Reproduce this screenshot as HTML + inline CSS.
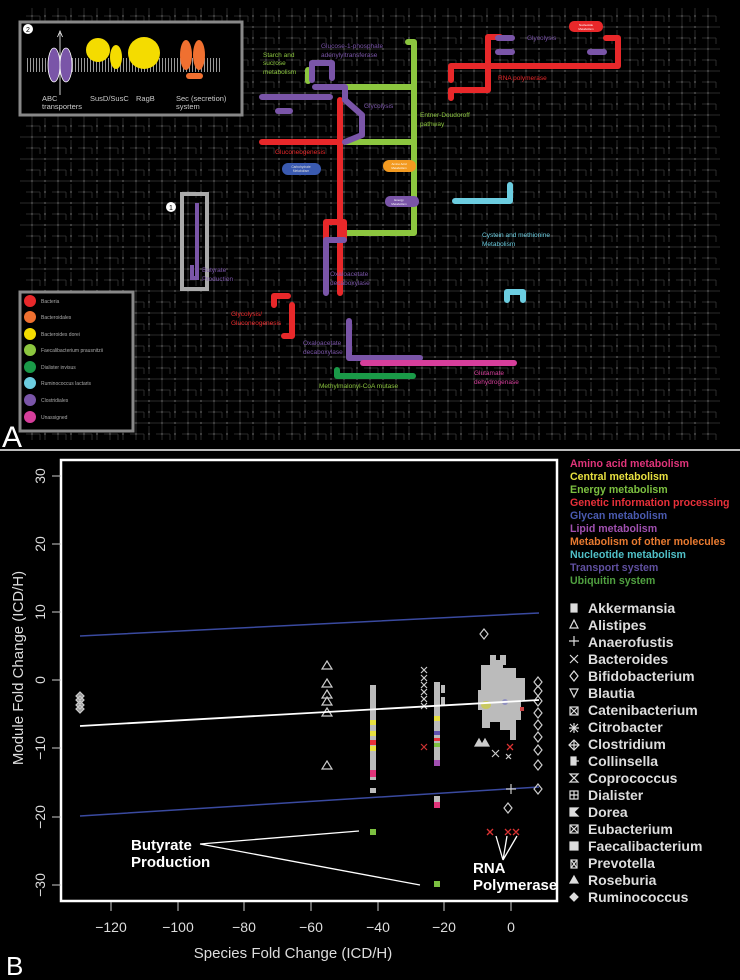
<!DOCTYPE html>
<html><head><meta charset="utf-8"><style>
html,body{margin:0;padding:0;background:#000;}
svg{display:block;font-family:"Liberation Sans",sans-serif;}
</style></head><body>
<svg width="740" height="980" viewBox="0 0 740 980" xmlns="http://www.w3.org/2000/svg">
<defs>
<pattern id="net" x="0" y="0" width="26" height="22" patternUnits="userSpaceOnUse">
<path d="M0 5H26M6 0V22M0 16H14M19 8V22M14 16V22" stroke="#383838" stroke-width="0.8" fill="none"/>
<circle cx="6" cy="5" r="1.1" fill="#444"/><circle cx="19" cy="5" r="1.1" fill="#444"/>
<circle cx="6" cy="16" r="1.1" fill="#444"/><circle cx="19" cy="16" r="1.1" fill="#444"/>
</pattern>
<pattern id="mem" width="3" height="14" patternUnits="userSpaceOnUse"><rect width="1" height="14" fill="#999"/></pattern>
</defs>
<rect width="740" height="980" fill="#000"/>
<!-- Panel A -->
<rect x="20" y="8" width="700" height="432" fill="url(#net)"/>
<rect x="0" y="449" width="740" height="2" fill="#bbb"/>
<g fill="none" stroke-linecap="round" stroke-linejoin="round" stroke-width="6">
<path d="M408 42H414V233H345" stroke="#8cc63f"/>
<path d="M330 87H414M345 142H414" stroke="#8cc63f"/>
<path d="M308 70V81" stroke="#8cc63f"/>
<path d="M262 142H340V100M340 142V293" stroke="#e8282a"/>
<path d="M326 240V222H344V240" stroke="#e8282a"/>
<path d="M262 97H330M312 80V63H332V78M315 87H345V100L362 115V135L345 142" stroke="#7a55a8"/>
<path d="M278 111H290" stroke="#7a55a8"/>
<path d="M326 240V293M326 240H344" stroke="#7a55a8"/>
<path d="M349 321V358H420" stroke="#7a55a8"/>
<path d="M451 80V66H618V38H606M488 37H500M488 37V90H451V98" stroke="#e8282a"/>
<path d="M498 38H512M498 52H512M590 52H604" stroke="#7a55a8"/>
<path d="M455 201H510V185" stroke="#6ccde0"/>
<path d="M507 300V292H523V300" stroke="#6ccde0"/>
<path d="M274 305V296H288M292 305V336H284" stroke="#e8282a"/>
<path d="M363 363H514" stroke="#d63e9b"/>
<path d="M337 370V376H413" stroke="#1a9a48"/>
</g>
<rect x="182" y="194" width="25" height="95" fill="none" stroke="#aaa" stroke-width="4"/>
<path d="M197 203V278H192V265" fill="none" stroke="#7a55a8" stroke-width="4"/>
<circle cx="171" cy="207" r="5" fill="#fff"/><text x="171" y="210" font-size="7" text-anchor="middle" fill="#000">1</text>
<rect x="569" y="21" width="34" height="11" rx="5" fill="#e8282a"/><text x="586" y="26" font-size="3" fill="#fff" text-anchor="middle">Nucleotide</text><text x="586" y="30" font-size="3" fill="#fff" text-anchor="middle">Metabolism</text>
<rect x="282" y="163" width="39" height="12" rx="6" fill="#3a5ab0"/><text x="301" y="168" font-size="3.2" fill="#ddd" text-anchor="middle">Carbohydrate</text><text x="301" y="172" font-size="3.2" fill="#ddd" text-anchor="middle">Metabolism</text>
<rect x="383" y="160" width="33" height="12" rx="6" fill="#f39a20"/><text x="399" y="165" font-size="3" fill="#fff" text-anchor="middle">Amino Acid</text><text x="399" y="169" font-size="3" fill="#fff" text-anchor="middle">Metabolism</text>
<rect x="385" y="196" width="34" height="11" rx="5" fill="#7a55a8"/><text x="399" y="201" font-size="3" fill="#fff" text-anchor="middle">Energy</text><text x="399" y="205" font-size="3" fill="#fff" text-anchor="middle">Metabolism</text>
<g font-size="6.5">
<text x="263" y="57" fill="#8cc63f">Starch and</text><text x="263" y="65" fill="#8cc63f">sucrose</text><text x="263" y="74" fill="#8cc63f">metabolism</text>
<text x="321" y="48" fill="#7a55a8">Glucose-1-phosphate</text><text x="321" y="57" fill="#7a55a8">adenylyltransferase</text>
<text x="364" y="108" fill="#7a55a8">Glycolysis</text>
<text x="420" y="117" fill="#8cc63f">Entner-Doudoroff</text><text x="420" y="126" fill="#8cc63f">pathway</text>
<text x="275" y="154" fill="#e8282a">Gluconeogenesis</text>
<text x="527" y="40" fill="#7a55a8">Glycolysis</text>
<text x="498" y="80" fill="#e8282a">RNA polymerase</text>
<text x="482" y="237" fill="#6ccde0">Cystein and methionine</text><text x="482" y="246" fill="#6ccde0">Metabolism</text>
<text x="202" y="272" fill="#7a55a8">Butyrate</text><text x="202" y="281" fill="#7a55a8">Production</text>
<text x="330" y="276" fill="#7a55a8">Oxaloacetate</text><text x="330" y="285" fill="#7a55a8">decaboxylase</text>
<text x="231" y="316" fill="#e8282a">Glycolysis/</text><text x="231" y="325" fill="#e8282a">Gluconeogenesis</text>
<text x="303" y="345" fill="#7a55a8">Oxaloacetate</text><text x="303" y="354" fill="#7a55a8">decaboxylase</text>
<text x="319" y="388" fill="#8cc63f">Methylmalonyl-CoA mutase</text>
<text x="474" y="375" fill="#d63e9b">Glutamate</text><text x="474" y="384" fill="#d63e9b">dehydrogenase</text>
</g>
<rect x="20" y="22" width="222" height="93" fill="#000" stroke="#888" stroke-width="3"/>
<rect x="27" y="58" width="195" height="14" fill="url(#mem)"/>
<path d="M60 95V33" stroke="#fff" stroke-width="0.8"/><path d="M57.5 37L60 31L62.5 37" fill="none" stroke="#fff" stroke-width="0.8"/>
<ellipse cx="54" cy="65" rx="6" ry="17" fill="#7a55a8" stroke="#fff" stroke-width="0.8"/>
<ellipse cx="66" cy="65" rx="6" ry="17" fill="#7a55a8" stroke="#fff" stroke-width="0.8"/>
<circle cx="98" cy="50" r="12" fill="#f4dc00"/><ellipse cx="116" cy="57" rx="6" ry="12" fill="#f4dc00"/>
<circle cx="144" cy="53" r="16" fill="#f4dc00"/>
<ellipse cx="186" cy="55" rx="6" ry="15" fill="#f07030"/><ellipse cx="199" cy="55" rx="6" ry="15" fill="#f07030"/>
<rect x="186" y="73" width="17" height="6" rx="3" fill="#f07030"/>
<circle cx="28" cy="29" r="5" fill="#fff"/><text x="28" y="32" font-size="7" text-anchor="middle" fill="#000">2</text>
<g font-size="7.5" fill="#ccc">
<text x="42" y="101">ABC</text><text x="42" y="109">transporters</text>
<text x="90" y="101">SusD/SusC</text><text x="136" y="101">RagB</text>
<text x="176" y="101">Sec (secretion)</text><text x="176" y="109">system</text>
</g>
<rect x="20" y="292" width="113" height="139" fill="#000" stroke="#888" stroke-width="3"/>
<g font-size="5" fill="#aaa">
<circle cx="30" cy="301" r="6" fill="#e8282a"/><text x="41" y="303">Bacteria</text>
<circle cx="30" cy="317" r="6" fill="#f07030"/><text x="41" y="319">Bacteroidales</text>
<circle cx="30" cy="334" r="6" fill="#f4dc00"/><text x="41" y="336">Bacteroides dorei</text>
<circle cx="30" cy="350" r="6" fill="#8cc63f"/><text x="41" y="352">Faecalibacterium prausnitzii</text>
<circle cx="30" cy="367" r="6" fill="#1a9a48"/><text x="41" y="369">Dialister invisus</text>
<circle cx="30" cy="383" r="6" fill="#6ccde0"/><text x="41" y="385">Ruminococcus lactaris</text>
<circle cx="30" cy="400" r="6" fill="#7a55a8"/><text x="41" y="402">Clostridiales</text>
<circle cx="30" cy="417" r="6" fill="#d63e9b"/><text x="41" y="419">Unassigned</text>
</g>
<text x="2" y="447" font-size="30" fill="#fff">A</text>

<!-- Panel B -->
<rect x="61" y="460" width="496" height="441" fill="#000" stroke="#fff" stroke-width="2.5"/>
<g stroke="#ccc" stroke-width="1">
<path d="M111 902V911M178 902V911M244 902V911M311 902V911M378 902V911M444 902V911M511 902V911"/>
<path d="M61 476H52M61 544H52M61 612H52M61 680H52M61 748H52M61 817H52M61 885H52"/>
</g>
<g font-size="14" fill="#ddd" text-anchor="middle">
<text x="111" y="932">−120</text><text x="178" y="932">−100</text><text x="244" y="932">−80</text><text x="311" y="932">−60</text><text x="378" y="932">−40</text><text x="444" y="932">−20</text><text x="511" y="932">0</text>
<text transform="translate(45,476) rotate(-90)">30</text>
<text transform="translate(45,544) rotate(-90)">20</text>
<text transform="translate(45,612) rotate(-90)">10</text>
<text transform="translate(45,680) rotate(-90)">0</text>
<text transform="translate(45,748) rotate(-90)">−10</text>
<text transform="translate(45,817) rotate(-90)">−20</text>
<text transform="translate(45,885) rotate(-90)">−30</text>
</g>
<text transform="translate(23,668) rotate(-90)" font-size="15" fill="#ddd" text-anchor="middle">Module Fold Change (ICD/H)</text>
<text x="293" y="958" font-size="15" fill="#ddd" text-anchor="middle">Species Fold Change (ICD/H)</text>
<text x="6" y="975" font-size="26" fill="#fff">B</text>
<path d="M80 636L539 613M80 816L539 787" stroke="#3a4aa0" stroke-width="1.5"/>
<g fill="none" stroke="#ccc" stroke-width="1.2">
<path d="M80 692l4 4-4 4-4-4zM80 696l4 4-4 4-4-4zM80 701l4 4-4 4-4-4zM80 705l4 4-4 4-4-4z" fill="#999"/>
<path d="M327 661l5 8h-10zM327 679l5 8h-10zM327 690l5 8h-10zM327 697l5 8h-10zM327 708l5 8h-10zM327 761l5 8h-10z"/>
<path d="M421 667l6 6M427 667l-6 6M421 675l6 6M427 675l-6 6M421 682l6 6M427 682l-6 6M421 689l6 6M427 689l-6 6M421 696l6 6M427 696l-6 6M421 703l6 6M427 703l-6 6"/>
<path d="M421 744l6 6M427 744l-6 6" stroke="#c33"/>
<path d="M538 677l4 5-4 5-4-5zM538 686l4 5-4 5-4-5zM538 696l4 5-4 5-4-5zM538 708l4 5-4 5-4-5zM538 720l4 5-4 5-4-5zM538 732l4 5-4 5-4-5zM538 745l4 5-4 5-4-5zM538 760l4 5-4 5-4-5zM538 784l4 5-4 5-4-5zM508 803l4 5-4 5-4-5zM484 629l4 5-4 5-4-5z"/>
<path d="M494 710l7 7M501 710l-7 7M492 750l7 7M499 750l-7 7M506 754l5 5M511 754l-5 5"/>
<path d="M506 789h10M511 784v10"/>
<path d="M475 746l4-7 4 7zM481 746l4-7 4 7z" fill="#ccc"/>
</g>
<g>
<rect x="370" y="685" width="6" height="95" fill="#bbb"/>
<rect x="370" y="720" width="6" height="5" fill="#e8e040"/><rect x="370" y="731" width="6" height="5" fill="#e8e040"/>
<rect x="370" y="740" width="6" height="5" fill="#e8303a"/><rect x="370" y="746" width="6" height="5" fill="#e8e040"/>
<rect x="370" y="770" width="6" height="7" fill="#e0347a"/>
<rect x="370" y="788" width="6" height="5" fill="#bbb"/>
<rect x="370" y="829" width="6" height="6" fill="#7cc040"/>
<rect x="434" y="682" width="6" height="84" fill="#bbb"/>
<rect x="441" y="685" width="4" height="8" fill="#bbb"/><rect x="441" y="697" width="4" height="8" fill="#bbb"/>
<rect x="434" y="716" width="6" height="5" fill="#e8e040"/><rect x="434" y="731" width="6" height="4" fill="#6050b0"/>
<rect x="434" y="738" width="6" height="3" fill="#e8303a"/><rect x="434" y="743" width="6" height="4" fill="#7cc040"/>
<rect x="434" y="760" width="6" height="6" fill="#a050b0"/>
<rect x="434" y="796" width="6" height="6" fill="#bbb"/><rect x="434" y="802" width="6" height="6" fill="#e0347a"/>
<rect x="434" y="881" width="6" height="6" fill="#7cc040"/>
<path d="M481 665H490V655H496V660H503V668H516V678H525V700H521V720H516V740H510V730H500V722H490V728H482V710H478V690H481Z" fill="#bbb"/>
<rect x="500" y="655" width="6" height="10" fill="#bbb"/>
<ellipse cx="486" cy="705" rx="5" ry="4" fill="#c8c860"/>
<circle cx="505" cy="702" r="3" fill="#9090c0"/>
<rect x="520" y="707" width="4" height="4" fill="#c44"/>
</g>
<path d="M80 726L539 700" stroke="#fff" stroke-width="1.8"/>
<g stroke="#d33" stroke-width="1.3">
<path d="M507 744l6 6M513 744l-6 6"/>
<path d="M487 829l6 6M493 829l-6 6M505 829l6 6M511 829l-6 6M513 829l6 6M519 829l-6 6"/>
</g>
<g stroke="#fff" stroke-width="1.3" fill="none">
<path d="M200 844L359 831M200 844L420 885"/>
<path d="M503 860L496 836M503 860L507 836M503 860L517 836"/>
</g>
<g font-size="15" font-weight="bold" fill="#fff">
<text x="131" y="850">Butyrate</text><text x="131" y="867">Production</text>
<text x="473" y="873">RNA</text><text x="473" y="890">Polymerase</text>
</g>
<g font-size="10.6" font-weight="bold">
<text x="570" y="467" fill="#e0347a">Amino acid metabolism</text>
<text x="570" y="480" fill="#e8e040">Central metabolism</text>
<text x="570" y="493" fill="#7cc040">Energy metabolism</text>
<text x="570" y="506" fill="#e8303a">Genetic information processing</text>
<text x="570" y="519" fill="#4a5ab0">Glycan metabolism</text>
<text x="570" y="532" fill="#a050b0">Lipid metabolism</text>
<text x="570" y="545" fill="#e87a30">Metabolism of other molecules</text>
<text x="570" y="558" fill="#50c0c8">Nucleotide metabolism</text>
<text x="570" y="571" fill="#6050a0">Transport system</text>
<text x="570" y="584" fill="#50a040">Ubiquitin system</text>
</g>
<g font-size="14" font-weight="bold" fill="#ddd">
<text x="588" y="613">Akkermansia</text><text x="588" y="630">Alistipes</text><text x="588" y="647">Anaerofustis</text>
<text x="588" y="664">Bacteroides</text><text x="588" y="681">Bifidobacterium</text><text x="588" y="698">Blautia</text>
<text x="588" y="715">Catenibacterium</text><text x="588" y="732">Citrobacter</text><text x="588" y="749">Clostridium</text>
<text x="588" y="766">Collinsella</text><text x="588" y="783">Coprococcus</text><text x="588" y="800">Dialister</text>
<text x="588" y="817">Dorea</text><text x="588" y="834">Eubacterium</text><text x="588" y="851">Faecalibacterium</text>
<text x="588" y="868">Prevotella</text><text x="588" y="885">Roseburia</text><text x="588" y="902">Ruminococcus</text>
</g>
<g fill="none" stroke="#ddd" stroke-width="1.2">
<rect x="571" y="604" width="6" height="8" fill="#ddd"/>
<path d="M574 620l4 8h-8z"/>
<path d="M574 636v10M569 641h10"/>
<path d="M570 655l8 8M578 655l-8 8"/>
<path d="M574 671l4 5-4 5-4-5z"/>
<path d="M570 689h8l-4 8z"/>
<rect x="570" y="707" width="8" height="8"/><path d="M570 707l8 8M578 707l-8 8"/>
<path d="M574 723v10M569 728h10M570 724l8 8M578 724l-8 8"/>
<path d="M574 740l5 5-5 5-5-5zM574 740v10M569 745h10"/>
<rect x="571" y="757" width="5" height="8" fill="#ddd"/><path d="M576 761h3"/>
<path d="M570 774h8l-8 8h8z"/><path d="M570 774l4 4 4-4"/>
<rect x="570" y="791" width="8" height="8"/><path d="M574 791v8M570 795h8"/>
<path d="M570 808h8l-4 4 4 4h-8z" fill="#ddd"/>
<rect x="570" y="825" width="8" height="8"/><path d="M570 825l4 4 4-4M570 833l4-4 4 4"/>
<rect x="570" y="842" width="8" height="8" fill="#ddd"/>
<rect x="571" y="860" width="6" height="8"/><path d="M571 860l6 8M577 860l-6 8"/>
<path d="M574 876l4 7h-8z" fill="#ddd"/>
<path d="M574 893l4 4-4 4-4-4z" fill="#ddd"/>
</g>
</svg>
</body></html>
